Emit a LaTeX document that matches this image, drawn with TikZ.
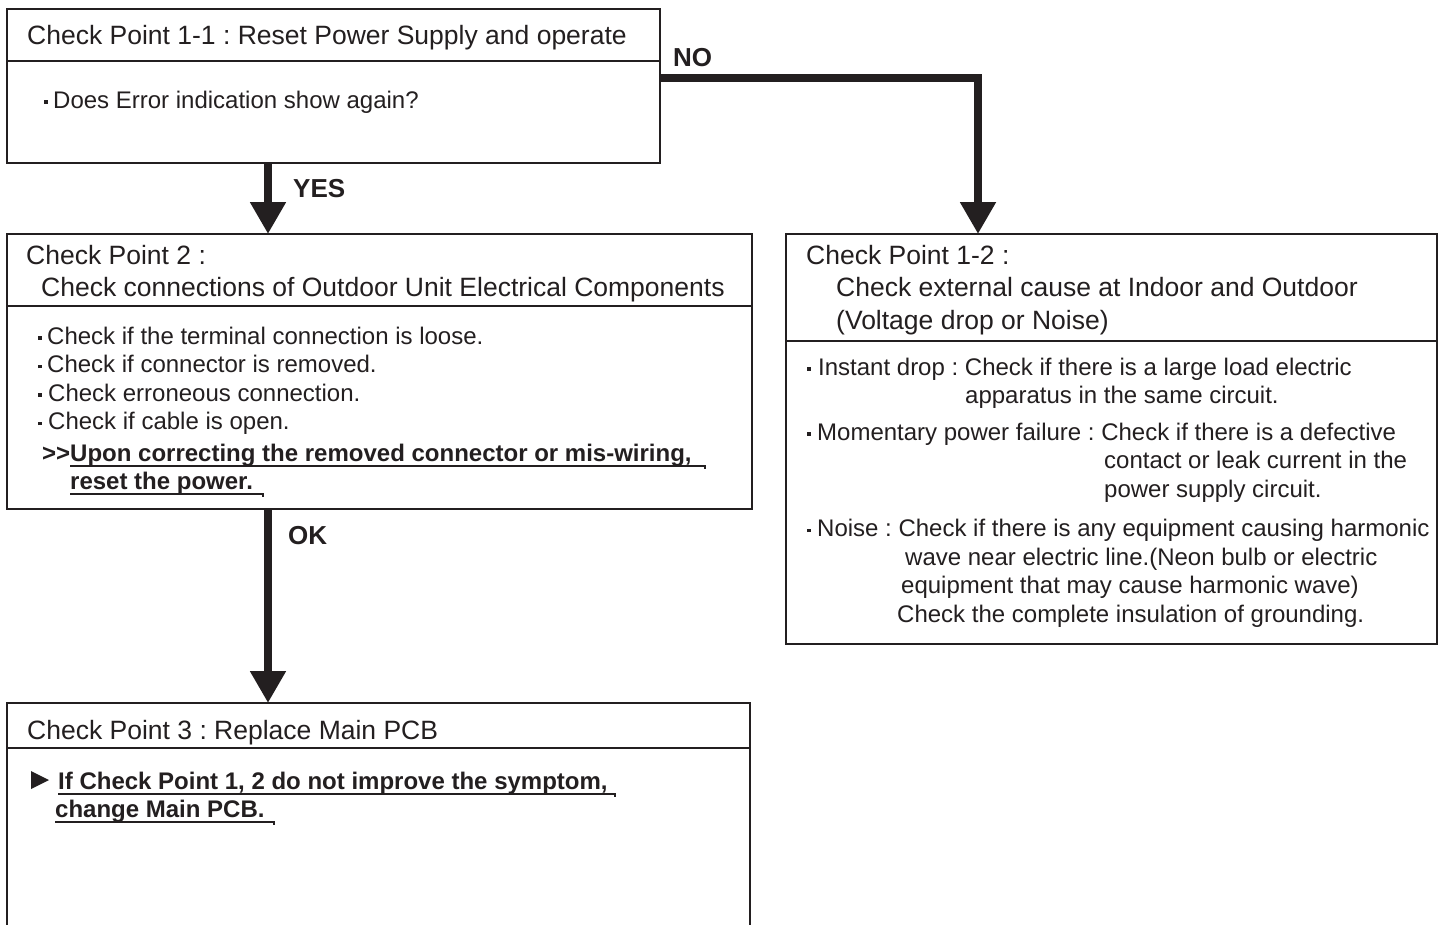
\documentclass[tikz,border=0pt]{standalone}
\usepackage{fontspec}
\setmainfont{Liberation Sans}
\usetikzlibrary{arrows.meta}
\definecolor{ink}{RGB}{35,31,32}
\newcommand\bul{\rule[4.5pt]{3.5pt}{3.5pt}}
\frenchspacing
\begin{document}
\frenchspacing
\begin{tikzpicture}[x=1pt,y=-1pt,
 box/.style={draw=ink, line width=1.8pt, rectangle, outer sep=0pt, inner sep=0pt, anchor=north west},
 divl/.style={draw=ink, line width=1.8pt},
 hdr/.style={anchor=base west, inner sep=0pt, text=ink, font=\fontsize{26.5pt}{30pt}\selectfont\frenchspacing},
 bdy/.style={anchor=base west, inner sep=0pt, text=ink, font=\fontsize{24pt}{28pt}\selectfont\frenchspacing},
 bld/.style={anchor=base west, inner sep=0pt, text=ink, font=\fontsize{24pt}{28pt}\selectfont\bfseries\frenchspacing},
 lbl/.style={anchor=base west, inner sep=0pt, text=ink, font=\fontsize{26pt}{30pt}\selectfont\bfseries},
 ul/.style={draw=ink, line width=1.5pt},
 flow/.style={draw=ink, line width=8pt, line join=miter, -{Triangle[width=34pt,length=32pt]}},
]
\useasboundingbox (0,0) rectangle (1447,924);
\clip (0,0) rectangle (1447,924);
\fill[white] (0,0) rectangle (1447,924);

% boxes
\node[box, minimum width=653pt, minimum height=154pt] (b1) at (7,9) {};
\node[box, minimum width=745pt, minimum height=275pt] (b2) at (7,234) {};
\node[box, minimum width=743pt, minimum height=240pt] (b3) at (7,703) {};
\node[box, minimum width=651pt, minimum height=410pt] (b4) at (786,234) {};

% dividers
\draw[divl] (b1.west |- 0,61) -- (b1.east |- 0,61);
\draw[divl] (b2.west |- 0,306) -- (b2.east |- 0,306);
\draw[divl] (b3.west |- 0,748) -- (b3.east |- 0,748);
\draw[divl] (b4.west |- 0,341) -- (b4.east |- 0,341);

% connectors
\coordinate (yx) at (268,0);
\coordinate (nx) at (978,78);
\draw[flow] (b1.south -| yx) -- (b2.north -| yx);
\draw[flow] (b2.south -| yx) -- (b3.north -| yx);
\draw[flow] (b1.east |- nx) -| (b4.north -| nx);

% labels
\node[lbl] (yes) at (293,197.5) {YES};
\node[lbl] (no) at (673,66.5) {NO};
\node[lbl] (ok) at (288,544.5) {OK};

% box 1
\node[hdr] (h1) at (27,44.5) {Check Point 1-1 : Reset Power Supply and operate};
\node[bdy] (q1) at (44,108) {\bul\hspace{5.5pt}Does Error indication show again?};

% box 2
\node[hdr] (h2a) at (26,264.5) {Check Point 2 :};
\node[hdr] (h2b) at (41,296.5) {Check connections of Outdoor Unit Electrical Components};
\node[bdy] (i1) at (38,344) {\bul\hspace{5.5pt}Check if the terminal connection is loose.};
\node[bdy] (i2) at (38,372.5) {\bul\hspace{5.5pt}Check if connector is removed.};
\node[bdy] (i3) at (38,401) {\bul\hspace{6.5pt}Check erroneous connection.};
\node[bdy] (i4) at (38,429.5) {\bul\hspace{6.5pt}Check if cable is open.};
\node[bld] (i5) at (42,461) {>{}>Upon correcting the removed connector or mis-wiring,};
\node[bld] (i6) at (70,489) {reset the power.};
\draw[ul] (70,466) -- (705,466) -- (705,469);
\draw[ul] (70,494) -- (263,494) -- (263,497);

% box 3
\node[hdr] (h3) at (27,739.5) {Check Point 3 : Replace Main PCB};
\fill[ink] (31,771) -- (49,780) -- (31,789) -- cycle;
\node[bld] (p1) at (58,789) {If Check Point 1, 2 do not improve the symptom,};
\node[bld] (p2) at (55,817) {change Main PCB.};
\draw[ul] (58,794) -- (615,794) -- (615,797);
\draw[ul] (55,822) -- (274,822) -- (274,825);

% box 4
\node[hdr] (h4a) at (806,264.5) {Check Point 1-2 :};
\node[hdr] (h4b) at (836,296.5) {Check external cause at Indoor and Outdoor};
\node[hdr] (h4c) at (836,329) {(Voltage drop or Noise)};
\node[bdy] (r1) at (807,375) {\bul\hspace{7.5pt}Instant drop : Check if there is a large load electric};
\node[bdy] (r1b) at (965,403.5) {apparatus in the same circuit.};
\node[bdy] (r2) at (807,440) {\bul\hspace{6.5pt}Momentary power failure : Check if there is a defective};
\node[bdy] (r2b) at (1104,468.5) {contact or leak current in the};
\node[bdy] (r2c) at (1104,497) {power supply circuit.};
\node[bdy] (r3) at (807,536.5) {\bul\hspace{6.5pt}Noise : Check if there is any equipment causing harmonic};
\node[bdy] (r3b) at (905,565) {wave near electric line.(Neon bulb or electric};
\node[bdy] (r3c) at (901,593.5) {equipment that may cause harmonic wave)};
\node[bdy] (r3d) at (897,622) {Check the complete insulation of grounding.};
\end{tikzpicture}
\end{document}
